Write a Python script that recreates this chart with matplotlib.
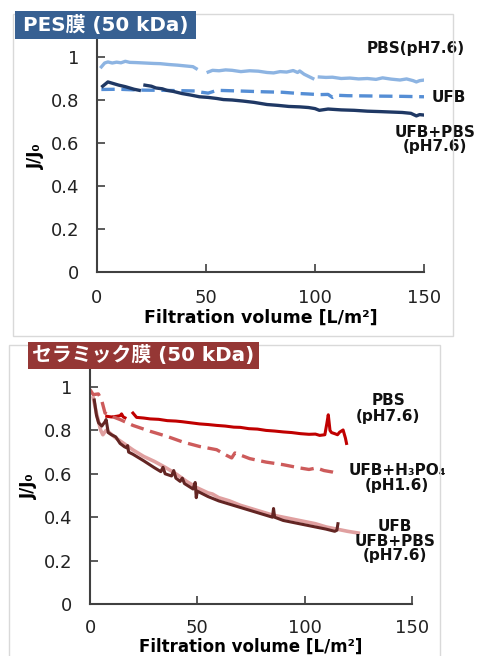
import numpy as np
import matplotlib.pyplot as plt
from matplotlib.patches import Rectangle

plt.rcParams['font.family'] = ['DejaVu Sans', 'Noto Sans CJK JP']

nan = np.nan

# PES membrane (top)
pes_pbs_x = [2, 3.5, 5, 7, 9, 11, 13, 15, 18, 22, 26, 29, 33, 37, 41, 44, 45.5, nan,
             51, 53, 56, 59, 62, 66, 70, 74, 78, 81, 84, 87, 90, 92, 93, 95, 97, 99, nan,
             102, 105, 108, 112, 116, 120, 124, 128, 131, 135, 139, 142, 145, 146.5, 148, 149.5]
pes_pbs_y = [0.954, 0.972, 0.977, 0.972, 0.976, 0.973, 0.980, 0.975, 0.974, 0.972, 0.970, 0.969, 0.965, 0.962, 0.958, 0.955, 0.946, nan,
             0.930, 0.938, 0.936, 0.940, 0.938, 0.932, 0.936, 0.934, 0.928, 0.926, 0.932, 0.930, 0.937, 0.928, 0.935, 0.920, 0.910, 0.900, nan,
             0.907, 0.905, 0.906, 0.900, 0.902, 0.898, 0.900, 0.896, 0.903, 0.897, 0.893, 0.898, 0.890, 0.884, 0.890, 0.892]
pes_ufb_x = [2, 10, 20, 30, 40, 45, 48, 51, 55, 65, 77, 85, 93, 97, 102, 106, 108, 110, 115, 123, 130, 140, 150]
pes_ufb_y = [0.849, 0.850, 0.846, 0.845, 0.843, 0.842, 0.836, 0.832, 0.845, 0.842, 0.838, 0.836, 0.830, 0.828, 0.825, 0.826, 0.812, 0.822, 0.820, 0.819, 0.818, 0.817, 0.815]
pes_mix_x = [2.6, 5, 7, 10, 13, 15, 17, 19.4, nan,
             22, 25, 27, 30, 32, 35, 39, 43, 47, 51, 55, 58, 62, 67, 72, 78, 83, 88, 93, 97, 100, 102,
             106, 112, 118, 124, 130, 135, 140, 144, 146.5, 148, 150]
pes_mix_y = [0.864, 0.884, 0.878, 0.869, 0.862, 0.856, 0.850, 0.845, nan,
             0.869, 0.864, 0.856, 0.852, 0.845, 0.840, 0.830, 0.823, 0.815, 0.812, 0.807, 0.802, 0.800, 0.795, 0.789, 0.779, 0.775, 0.770, 0.768, 0.765, 0.760, 0.752,
             0.758, 0.754, 0.752, 0.748, 0.746, 0.744, 0.742, 0.738, 0.726, 0.732, 0.730]

# ceramic membrane (bottom)
cer_pbs_x = [7.8, 10, 12.4, 14, 14.7, 15.5, 16.3, nan,
             20, 21.7, 25, 28, 32, 36, 40, 43, 47, 51, 55, 59, 63, 67, 70, 74, 78, 82, 86, 90, 94, 98, 102, 105, 107,
             109.4, 110.3, 111, 111.8, 112.5, 114, 115.3, 116.3, 117.9, 119, 119.5]
cer_pbs_y = [0.865, 0.862, 0.865, 0.868, 0.876, 0.862, 0.858, nan,
             0.880, 0.860, 0.857, 0.853, 0.851, 0.845, 0.843, 0.840, 0.835, 0.830, 0.827, 0.823, 0.820, 0.815, 0.814, 0.808, 0.806, 0.800, 0.797, 0.793, 0.790, 0.785, 0.782, 0.783, 0.777,
             0.780, 0.830, 0.872, 0.800, 0.790, 0.785, 0.780, 0.792, 0.802, 0.764, 0.740]
cer_acid_x = [0, 1.5, 3.9, 5.4, 7, 9.3, 14, 20, 28, 35.7, 43.4, 51, 59, 63.6, 66, 67.5, 74.4, 82, 90, 97.7, 102, 105.5, 109, 113, 116]
cer_acid_y = [0.988, 0.965, 0.968, 0.940, 0.880, 0.868, 0.850, 0.823, 0.796, 0.773, 0.746, 0.726, 0.711, 0.685, 0.673, 0.696, 0.670, 0.654, 0.642, 0.627, 0.620, 0.627, 0.615, 0.608, 0.600]
cer_ufb_x = [1.5, 3, 5, 6, 7.5, 9, 12, 15, 20, 25, 30, 35, 40, 45, 50, 55, 57, 60, 65, 70, 75, 80, 85, 90, 95, 100, 105, 110, 115, 120, 125]
cer_ufb_y = [0.950, 0.880, 0.800, 0.780, 0.800, 0.790, 0.765, 0.745, 0.710, 0.680, 0.657, 0.630, 0.600, 0.565, 0.535, 0.512, 0.507, 0.490, 0.475, 0.455, 0.440, 0.425, 0.410, 0.400, 0.390, 0.380, 0.370, 0.355, 0.345, 0.335, 0.327]
cer_mix_x = [2, 3, 4, 5.5, 7, 7.5, 8.5, 10, 12, 14, 16, 17, 17.5, 18, 20, 25, 30, 33, 34, 35, 38, 39, 40, 42, 43, 44, 48, 49, 49.5, 50,
             55, 60, 65, 70, 75, 80, 85, 85.5, 86, 90, 95, 100, 105, 110, 114, 115, 115.5]
cer_mix_y = [0.940, 0.870, 0.835, 0.820, 0.840, 0.850, 0.790, 0.780, 0.770, 0.740, 0.725, 0.720, 0.730, 0.700, 0.690, 0.660, 0.628, 0.610, 0.630, 0.600, 0.590, 0.615, 0.580, 0.565, 0.580, 0.555, 0.530, 0.560, 0.490, 0.520,
             0.495, 0.475, 0.460, 0.445, 0.430, 0.415, 0.400, 0.440, 0.400, 0.385, 0.375, 0.365, 0.355, 0.345, 0.335, 0.340, 0.370]

W, H = 479, 656
fig = plt.figure(figsize=(W / 100, H / 100), dpi=100)


def style_axes(ax, xpad, lpad):
    ax.set_xlim(0, 150)
    ax.set_xticks([0, 50, 100, 150])
    ax.set_yticks([0, 0.2, 0.4, 0.6, 0.8, 1])
    ax.set_yticklabels(['0', '0.2', '0.4', '0.6', '0.8', '1'])
    for s in ['top', 'right']:
        ax.spines[s].set_visible(False)
    for s in ['left', 'bottom']:
        ax.spines[s].set_color('#404040')
        ax.spines[s].set_linewidth(1.5)
    ax.tick_params(direction='in', length=6, width=1.2, color='#404040',
                   labelsize=13, labelcolor='#222222')
    ax.tick_params(axis='y', pad=13)
    ax.tick_params(axis='x', pad=xpad)
    ax.set_xlabel('Filtration volume [L/m²]', fontsize=12.5, fontweight='bold', labelpad=lpad)
    ax.set_ylabel('J/J₀', fontsize=12, fontweight='bold', labelpad=4)


def px_box(x0, y0, x1, y1):
    return (x0 / W, 1 - y1 / H, (x1 - x0) / W, (y1 - y0) / H)


# panel borders
for (x0, y0, x1, y1) in [(13, 14, 453, 336), (9, 345, 440, 660)]:
    l, b, w, h = px_box(x0, y0, x1, y1)
    fig.patches.append(Rectangle((l, b), w, h, transform=fig.transFigure,
                                 fill=False, edgecolor='#d9d9d9', linewidth=1.0))

# top panel
ax1 = fig.add_axes([97 / W, 1 - 272 / H, (424 - 97) / W, 1.08 * 215 / H])
ax1.plot(pes_pbs_x, pes_pbs_y, color='#8db4e2', lw=2.4)
ax1.plot(pes_ufb_x, pes_ufb_y, color='#558ed5', lw=2.4, dashes=(4, 2))
ax1.plot(pes_mix_x, pes_mix_y, color='#1f3864', lw=2.4)
ax1.set_ylim(0, 1.08)
style_axes(ax1, 12.5, 1)
lab = dict(fontsize=11, fontweight='bold', ha='center', va='center', clip_on=False, color='#111111')
ax1.text(146, 1.04, 'PBS(pH7.6)', **lab)
ax1.text(161.5, 0.81, 'UFB', **lab)
ax1.text(155, 0.615, 'UFB+PBS\n(pH7.6)', linespacing=0.95, **lab)

# bottom panel
ax2 = fig.add_axes([90 / W, 1 - 604 / H, (412 - 90) / W, 1.087 * 217 / H])
ax2.plot(cer_pbs_x, cer_pbs_y, color='#c00000', lw=2.2)
ax2.plot(cer_acid_x, cer_acid_y, color='#cd5b5b', lw=2.4, dashes=(4, 2))
ax2.plot(cer_ufb_x, cer_ufb_y, color='#e0a0a0', lw=2.6)
ax2.plot(cer_mix_x, cer_mix_y, color='#632523', lw=2.2)
ax2.set_ylim(0, 1.087)
style_axes(ax2, 11, 0)
ax2.xaxis.label.set_fontsize(12)
ax2.text(139, 0.90, 'PBS\n(pH7.6)', linespacing=1.05, **lab)
ax2.text(143, 0.58, 'UFB+H₃PO₄\n(pH1.6)', linespacing=1.05, **lab)
ax2.text(142, 0.29, 'UFB\nUFB+PBS\n(pH7.6)', linespacing=0.95, **lab)

# title boxes
for (x0, y0, x1, y1, pad, col, txt) in [(15, 11, 196, 39, 8, '#376092', 'PES膜 (50 kDa)'),
                                        (28, 342, 259, 369, 4, '#953735', 'セラミック膜 (50 kDa)')]:
    l, b, w, h = px_box(x0, y0, x1, y1)
    fig.patches.append(Rectangle((l, b), w, h, transform=fig.transFigure,
                                 facecolor=col, edgecolor='none', zorder=5))
    fig.text(l + pad / W, b + h / 2, txt, color='white', fontsize=14.3, fontweight='bold',
             ha='left', va='center', zorder=6)

fig.savefig('out.png', dpi=100)
